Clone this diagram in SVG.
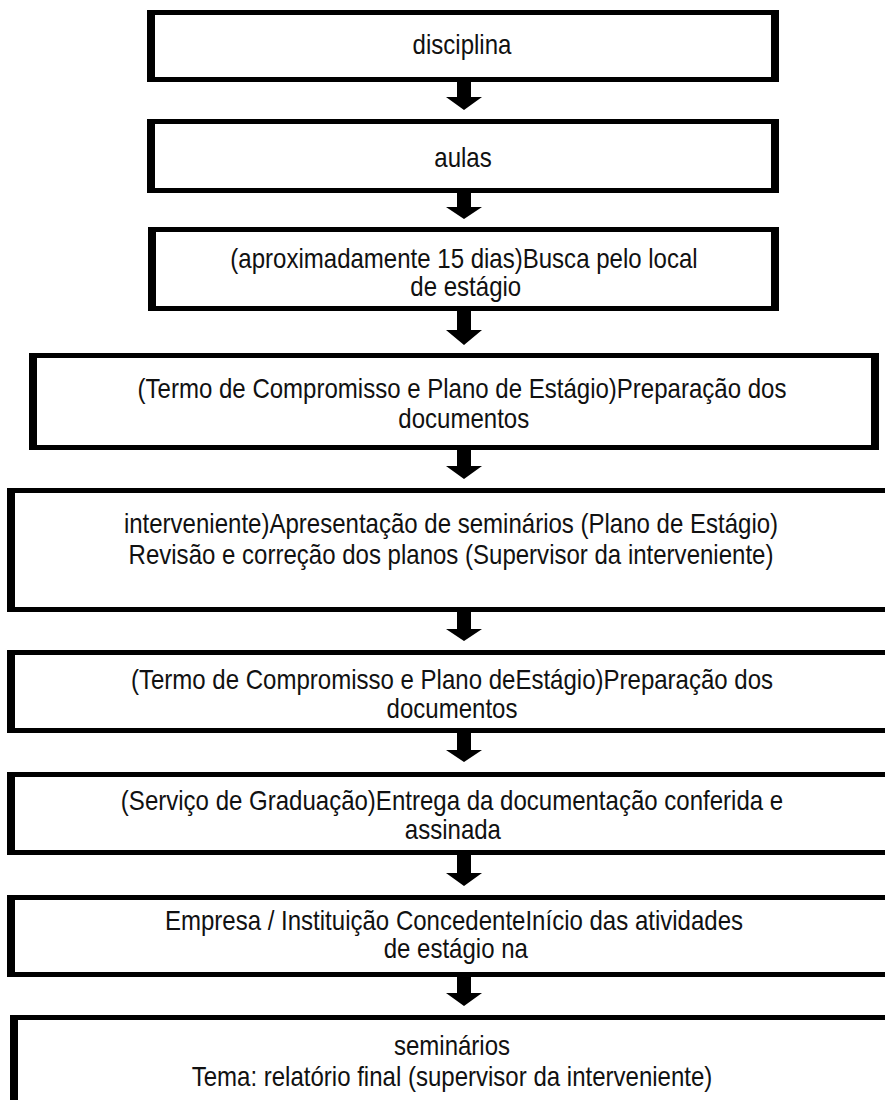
<svg xmlns="http://www.w3.org/2000/svg" width="885" height="1100" viewBox="0 0 885 1100">
<style>
.frame{fill:#000;fill-rule:evenodd}
.lbl{font-family:"Liberation Sans",Arial,sans-serif;font-size:27px;fill:#111;text-anchor:middle}
.arr{fill:#000}
</style>
<rect width="885" height="1100" fill="#fff"/>
<g id="n1"><path class="frame" d="M147 10H779V82H147Z M155 15V77H771V15Z"/><g transform="translate(462 0) scale(0.89 1)"><text class="lbl" x="0" y="54">disciplina</text></g></g>
<g id="n2"><path class="frame" d="M147 119H779V193H147Z M155 124V188H771V124Z"/><g transform="translate(463 0) scale(0.89 1)"><text class="lbl" x="0" y="167">aulas</text></g></g>
<g id="n3"><path class="frame" d="M148 227H779V311H148Z M156 232V306H771V232Z"/><g transform="translate(464 0) scale(0.89 1)"><text class="lbl" x="0" y="268">(aproximadamente 15 dias)Busca pelo local</text><text class="lbl" x="2" y="296">de estágio</text></g></g>
<g id="n4"><path class="frame" d="M29 353H879V450H29Z M37 358V445H871V358Z"/><g transform="translate(462 0) scale(0.89 1)"><text class="lbl" x="0" y="398">(Termo de Compromisso e Plano de Estágio)Preparação dos</text><text class="lbl" x="2" y="428">documentos</text></g></g>
<g id="n5"><path class="frame" d="M7 488H893V612H7Z M15 493V607H885V493Z"/><g transform="translate(451 0) scale(0.89 1)"><text class="lbl" x="0" y="533">interveniente)Apresentação de seminários (Plano de Estágio)</text><text class="lbl" x="0" y="564">Revisão e correção dos planos (Supervisor da interveniente)</text></g></g>
<g id="n6"><path class="frame" d="M7 650H893V733H7Z M15 655V728H885V655Z"/><g transform="translate(452 0) scale(0.89 1)"><text class="lbl" x="0" y="689">(Termo de Compromisso e Plano deEstágio)Preparação dos</text><text class="lbl" x="0" y="718">documentos</text></g></g>
<g id="n7"><path class="frame" d="M7 772H893V855H7Z M15 777V850H885V777Z"/><g transform="translate(452 0) scale(0.89 1)"><text class="lbl" x="0" y="810">(Serviço de Graduação)Entrega da documentação conferida e</text><text class="lbl" x="1" y="839">assinada</text></g></g>
<g id="n8"><path class="frame" d="M7 895H893V977H7Z M15 900V972H885V900Z"/><g transform="translate(454 0) scale(0.89 1)"><text class="lbl" x="0" y="930">Empresa / Instituição ConcedenteInício das atividades</text><text class="lbl" x="2" y="958">de estágio na</text></g></g>
<g id="n9"><path class="frame" d="M10 1015H893V1110H10Z M18 1020V1105H885V1020Z"/><g transform="translate(452 0) scale(0.89 1)"><text class="lbl" x="0" y="1055">seminários</text><text class="lbl" x="0" y="1086">Tema: relatório final (supervisor da interveniente)</text></g></g>
<g id="connectors">
<path class="arr" d="M457 82H471V97H482L464 110L446 97H457Z"/>
<path class="arr" d="M457 193H471V207H482L464 219L446 207H457Z"/>
<path class="arr" d="M457 311H471V330H482L464 345L446 330H457Z"/>
<path class="arr" d="M457 450H471V466H482L464 479L446 466H457Z"/>
<path class="arr" d="M457 612H471V629H482L464 641L446 629H457Z"/>
<path class="arr" d="M457 733H471V750H482L464 762L446 750H457Z"/>
<path class="arr" d="M457 855H471V873H482L464 886L446 873H457Z"/>
<path class="arr" d="M457 977H471V993H482L464 1006L446 993H457Z"/>
</g>
</svg>
